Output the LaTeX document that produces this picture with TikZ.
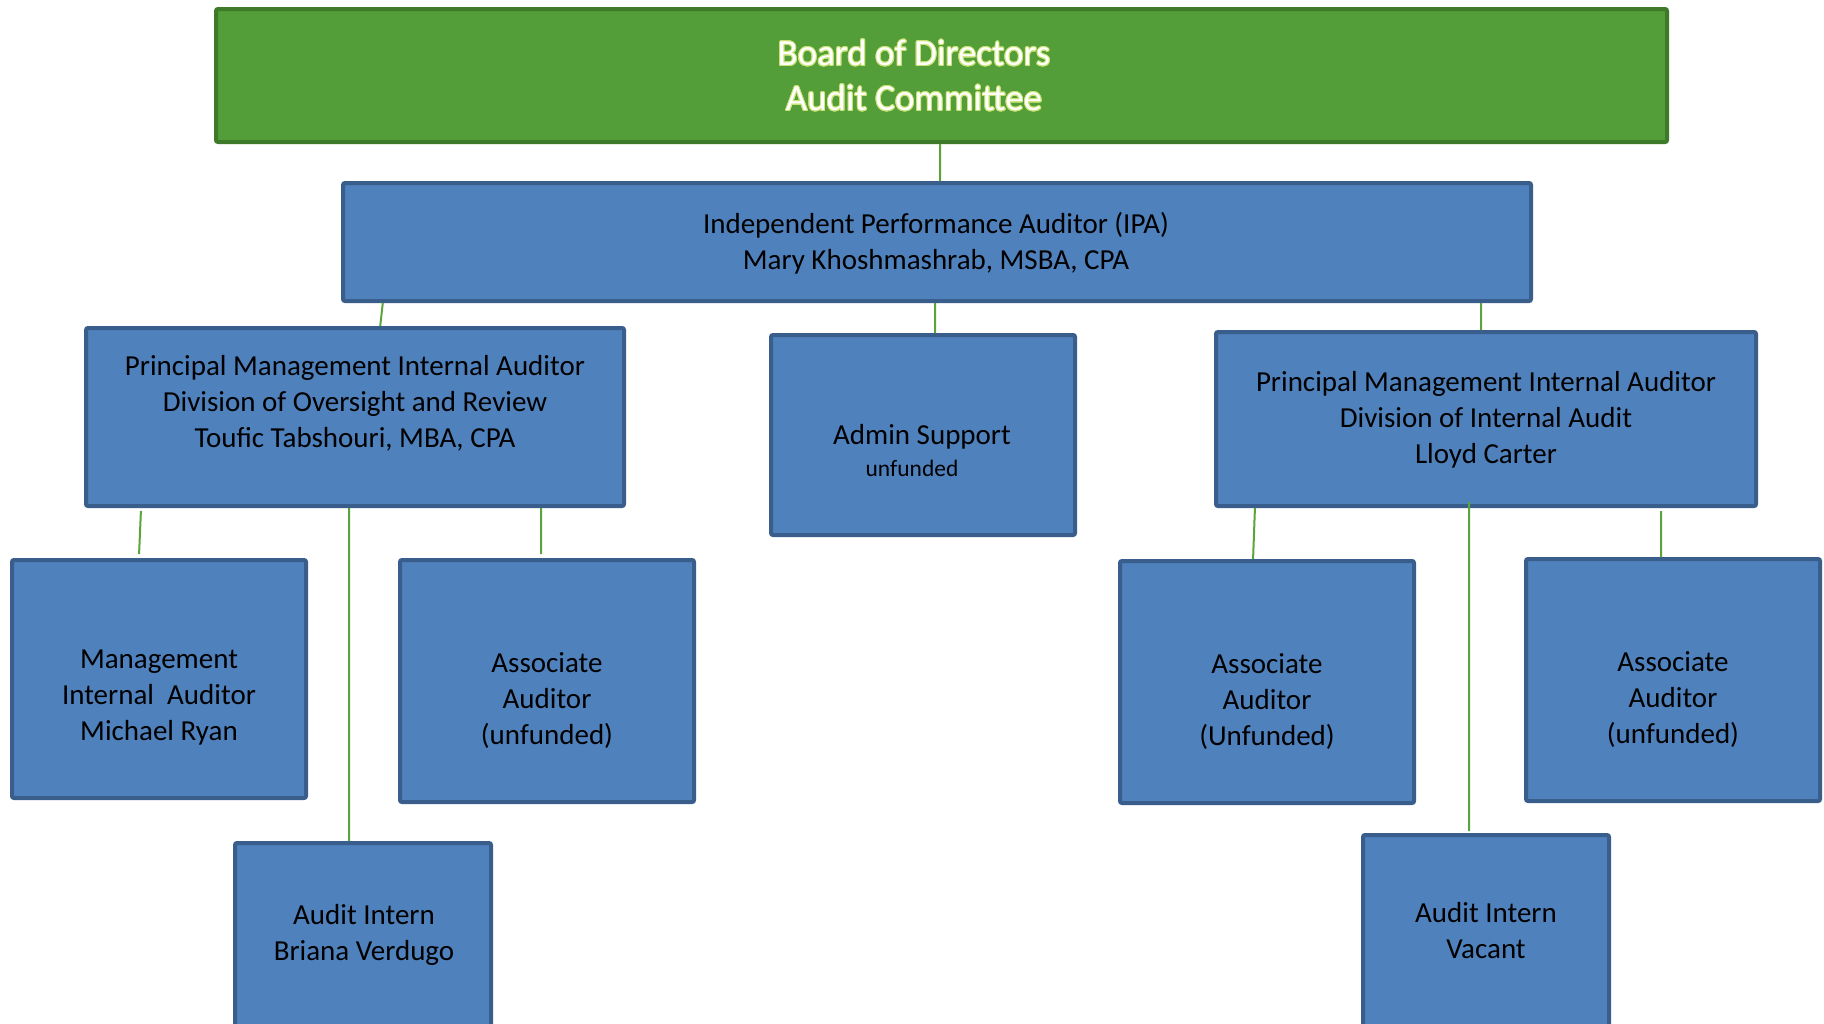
\documentclass[tikz,border=0pt]{standalone}
\usepackage{fontspec}
\setmainfont{Carlito}
\usepackage{contour}
\usetikzlibrary{calc}
\definecolor{boxfill}{RGB}{79,129,189}
\definecolor{boxline}{RGB}{58,94,140}
\definecolor{boardfill}{RGB}{84,158,57}
\definecolor{boardline}{RGB}{63,122,43}
\definecolor{conncol}{RGB}{90,165,58}
\definecolor{glowcol}{RGB}{200,226,115}
\contourlength{0.9bp}
\contournumber{16}
\tikzset{
  orgbox/.style={draw=boxline, fill=boxfill, line width=4bp, rectangle, rounded corners=2bp, inner sep=0pt, outer sep=0pt, anchor=north west},
  boardbox/.style={orgbox, draw=boardline, fill=boardfill},
  txt/.style={align=center, inner sep=0pt, text=black, font=\fontsize{29bp}{36bp}\selectfont},
  conn/.style={draw=conncol, line width=2bp, shorten <=2bp, shorten >=2bp}
}
\begin{document}
\begin{tikzpicture}[x=1bp,y=-1bp]
\useasboundingbox[fill=white] (0,0) rectangle (1824,1023);
% boxes
\node[boardbox, minimum width=1451bp, minimum height=133bp] (board) at (216,9) {};
\node[orgbox, minimum width=1188bp, minimum height=118bp] (ipa) at (343,183) {};
\node[orgbox, minimum width=538bp, minimum height=178bp] (pl) at (86,328) {};
\node[orgbox, minimum width=304bp, minimum height=200bp] (admin) at (771,335) {};
\node[orgbox, minimum width=540bp, minimum height=174bp] (pr) at (1216,332) {};
\node[orgbox, minimum width=294bp, minimum height=238bp] (mia) at (12,560) {};
\node[orgbox, minimum width=294bp, minimum height=242bp] (al) at (400,560) {};
\node[orgbox, minimum width=256bp, minimum height=197bp] (ai1) at (235,843) {};
\node[orgbox, minimum width=294bp, minimum height=242bp] (aru) at (1120,561) {};
\node[orgbox, minimum width=294bp, minimum height=242bp] (ar) at (1526,559) {};
\node[orgbox, minimum width=246bp, minimum height=205bp] (ai2) at (1363,835) {};
% texts
\node[txt, text=white, font=\fontsize{37bp}{45bp}\selectfont] (boardt) at (914,76)
  {\contour{glowcol}{\color{white}Board of Directors}\\\contour{glowcol}{\color{white}Audit Committee}};
\node[txt] (ipat) at (936,243) {Independent Performance Auditor (IPA)\\Mary Khoshmashrab, MSBA, CPA};
\node[txt] (plt) at (355,403) {Principal Management Internal Auditor\\Division of Oversight and Review\\Toufic Tabshouri, MBA, CPA};
\node[txt] (admint) at (922,437) {Admin Support};
\node[txt, font=\fontsize{23.5bp}{28bp}\selectfont] (adminu) at (912,468) {unfunded};
\node[txt] (prt) at (1486,420) {Principal Management Internal Auditor\\Division of Internal Audit\\Lloyd Carter};
\node[txt] (miat) at (159,698) {Management\\Internal\ \ Auditor\\Michael Ryan};
\node[txt] (alt) at (547,701) {Associate\\Auditor\\(unfunded)};
\node[txt] (ai1t) at (364,935) {Audit Intern\\Briana Verdugo};
\node[txt] (arut) at (1267,702) {Associate\\Auditor\\(Unfunded)};
\node[txt] (art) at (1673,700) {Associate\\Auditor\\(unfunded)};
\node[txt] (ai2t) at (1486,931) {Audit Intern\\Vacant};
% connectors
\draw[conn] ([xshift=-1.5bp]board.south) -- ([xshift=3bp]ipa.north);
\draw[conn] ([xshift=-554bp]ipa.south) -- ([xshift=25bp]pl.north);
\draw[conn] ([xshift=-2bp]ipa.south) -- ([xshift=12bp]admin.north);
\draw[conn] ([xshift=544bp]ipa.south) -- ([xshift=-5bp]pr.north);
\draw[conn] ([xshift=-214bp,yshift=-3bp]pl.south) -- ([xshift=-20bp,yshift=4bp]mia.north);
\draw[conn] ([xshift=186bp]pl.south) -- ([xshift=-6bp,yshift=4bp]al.north);
\draw[conn] ([xshift=-6bp]pl.south) -- ([xshift=-14bp]ai1.north);
\draw[conn] ([xshift=-231bp]pr.south) -- ([xshift=-14bp]aru.north);
\draw[conn] ([xshift=-17bp,yshift=6bp]pr.south) -- ([xshift=-17bp,yshift=2bp]ai2.north);
\draw[conn] ([xshift=175bp,yshift=-3bp]pr.south) -- ([xshift=-12bp]ar.north);
\end{tikzpicture}
\end{document}
